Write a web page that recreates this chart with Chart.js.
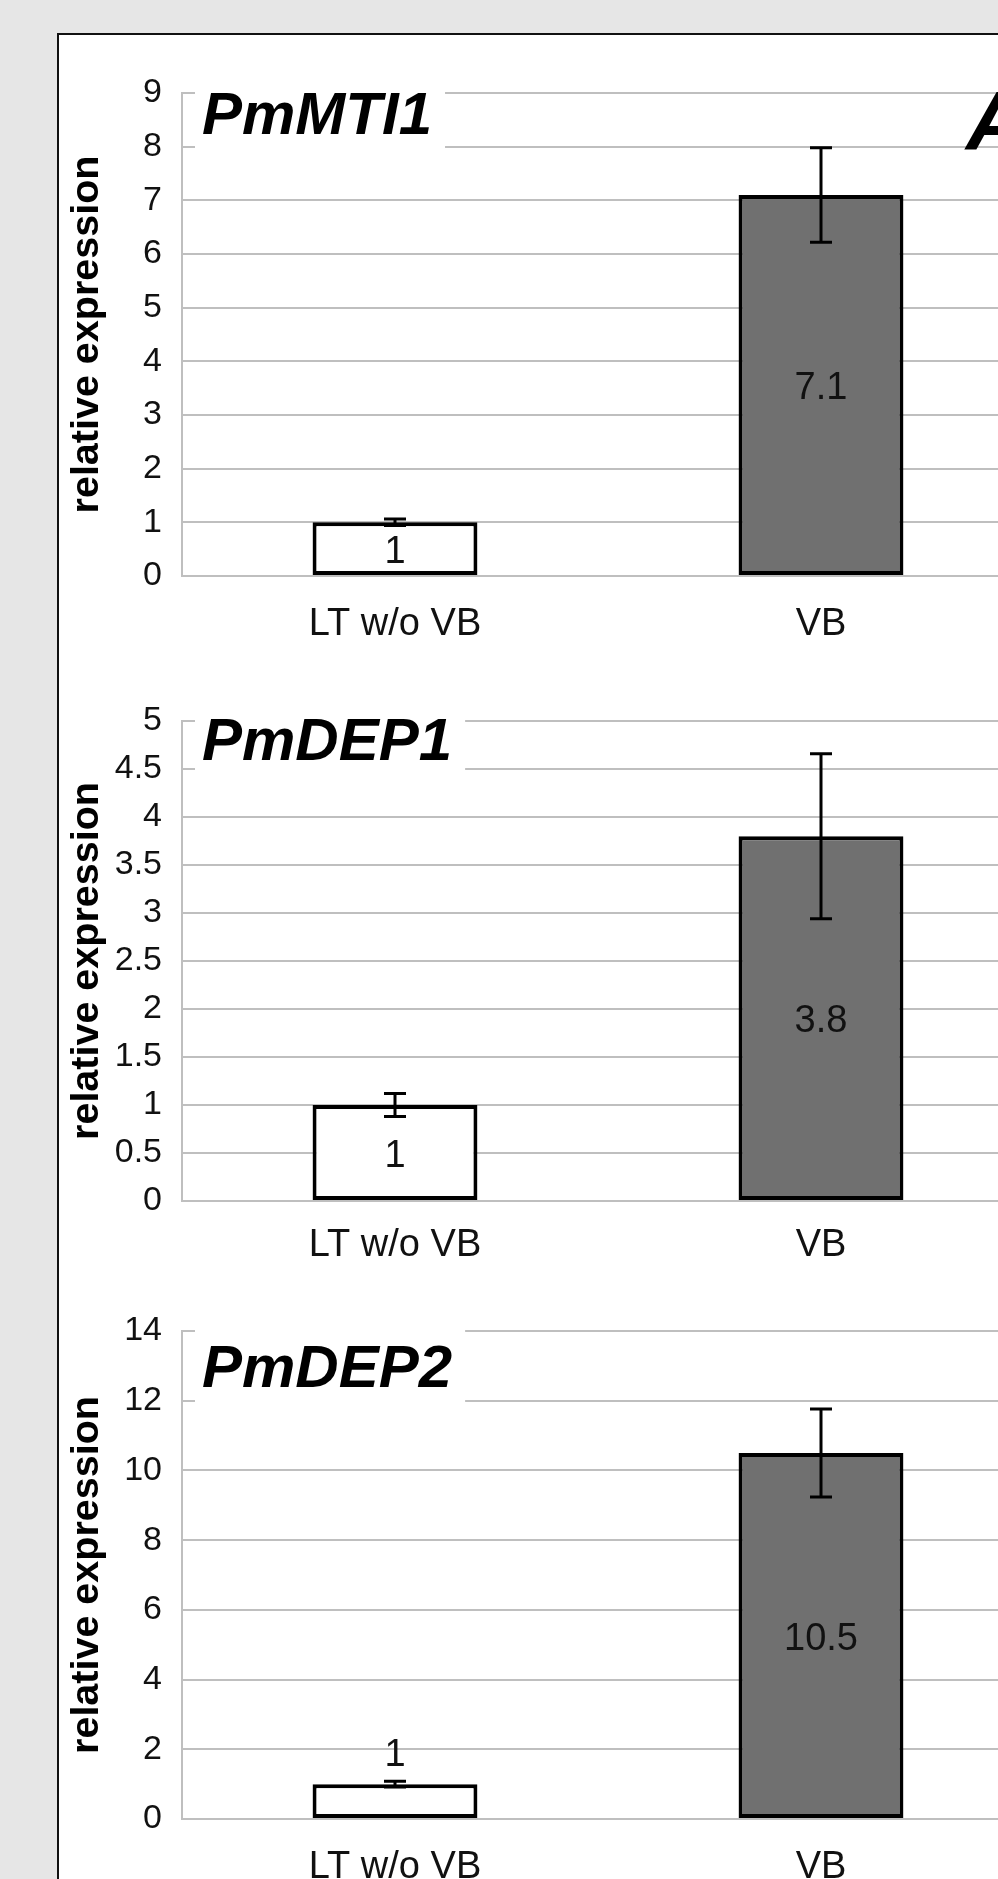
<!DOCTYPE html>
<html>
<head>
<meta charset="utf-8">
<title>PmMTI1, PmDEP1, PmDEP2 relative expression</title>
<script src="https://cdn.jsdelivr.net/npm/chart.js@4.4.1/dist/chart.umd.min.js"></script>
<style>
  html, body { margin: 0; padding: 0; overflow: hidden; }
  body { width: 998px; height: 1879px; background: #e6e6e6; position: relative; }
  #frame { position: absolute; left: 57px; top: 33px; width: 1100px; height: 1900px; background: #fff; border: 2px solid #111; }
  canvas { position: absolute; left: 60px; }
  #tag { position: absolute; left: 966px; top: 79px; font: italic bold 84px/84px 'Liberation Sans', Arial, sans-serif; color: #000; }
</style>
</head>
<body>
<div id="frame"></div>
<canvas id="mti1" width="1040" height="610" style="top:40px"></canvas>
<canvas id="dep1" width="1040" height="615" style="top:660px"></canvas>
<canvas id="dep2" width="1040" height="620" style="top:1280px"></canvas>
<div id="tag">A</div>
<script>
document.addEventListener('DOMContentLoaded', function() {

    // ------------------------------------------
    // datos
    // ------------------------------------------
    const categories = ['LT w/o VB', 'VB'];

    const mti1Values = [1, 7.1];
    const mti1Errors = [0.06, 0.88];
    const mti1Ticks = [0, 1, 2, 3, 4, 5, 6, 7, 8, 9];

    const dep1Values = [1, 3.8];
    const dep1Errors = [0.12, 0.86];
    const dep1Ticks = [0, 0.5, 1, 1.5, 2, 2.5, 3, 3.5, 4, 4.5, 5];

    const dep2Values = [1, 10.5];
    const dep2Errors = [0.08, 1.26];
    const dep2Ticks = [0, 2, 4, 6, 8, 10, 12, 14];

    const FONT = "'Liberation Sans', Arial, sans-serif";
    const barColors = ['#ffffff', '#707070'];
    const gridGray = '#bfbfbf';

    Chart.defaults.font.family = FONT;
    Chart.defaults.color = '#111';

    // barras de error, etiquetas de valor y nombre del gen
    const panelExtras = {
        id: 'panelExtras',
        afterDatasetsDraw(chart, args, opts) {
            const ctx = chart.ctx;
            const area = chart.chartArea;
            const yScale = chart.scales.y;
            const meta = chart.getDatasetMeta(0);
            const values = chart.data.datasets[0].data;

            ctx.save();
            ctx.strokeStyle = '#000';
            ctx.lineWidth = 3;
            meta.data.forEach((bar, i) => {
                const yTop = yScale.getPixelForValue(values[i] + opts.errors[i]);
                const yBot = yScale.getPixelForValue(values[i] - opts.errors[i]);
                ctx.beginPath();
                ctx.moveTo(bar.x, yTop); ctx.lineTo(bar.x, yBot);
                ctx.moveTo(bar.x - 11, yTop); ctx.lineTo(bar.x + 11, yTop);
                ctx.moveTo(bar.x - 11, yBot); ctx.lineTo(bar.x + 11, yBot);
                ctx.stroke();
            });

            // texto centrado por la altura de las mayusculas
            ctx.font = '38px ' + FONT;
            ctx.fillStyle = '#111';
            ctx.textAlign = 'center';
            ctx.textBaseline = 'alphabetic';
            meta.data.forEach((bar, i) => {
                if (opts.labelAbove[i]) {
                    ctx.fillText(String(values[i]), bar.x, bar.y - 18);
                } else {
                    ctx.fillText(String(values[i]), bar.x, (bar.y + bar.base) / 2 + 14);
                }
            });

            ctx.font = 'italic bold 60px ' + FONT;
            const w = ctx.measureText(opts.title).width;
            ctx.fillStyle = '#fff';
            ctx.fillRect(area.left + 13, area.top - 8, w + 20, 84);
            ctx.fillStyle = '#000';
            ctx.textAlign = 'left';
            ctx.textBaseline = 'middle';
            ctx.fillText(opts.title, area.left + 20, area.top + opts.titleDy);
            ctx.restore();
        }
    };

    function panel(id, gene, values, errors, ticks, lay) {
        return new Chart(document.getElementById(id), {
            type: 'bar',
            data: {
                labels: categories,
                datasets: [{
                    data: values,
                    backgroundColor: barColors,
                    borderColor: '#000',
                    borderWidth: 4,
                    borderSkipped: false,
                    barPercentage: 0.387,
                    categoryPercentage: 1
                }]
            },
            options: {
                responsive: false,
                animation: false,
                devicePixelRatio: 1,
                layout: { padding: { top: lay.padTop, bottom: lay.padBottom, left: 0, right: 66 } },
                plugins: {
                    legend: { display: false },
                    tooltip: { enabled: false },
                    panelExtras: { title: gene, titleDy: lay.titleDy, errors: errors, labelAbove: lay.labelAbove }
                },
                scales: {
                    x: {
                        grid: { display: false, drawTicks: false },
                        border: { display: true, color: gridGray, width: 2 },
                        ticks: { color: '#111', font: { size: 38 }, padding: lay.xPad },
                        afterFit(s) { s.height = lay.xHeight; }
                    },
                    y: {
                        min: ticks[0],
                        max: ticks[ticks.length - 1],
                        grid: { color: gridGray, lineWidth: 2, drawTicks: false },
                        border: { display: true, color: gridGray, width: 2 },
                        ticks: {
                            stepSize: ticks[1] - ticks[0],
                            padding: 20,
                            color: '#111',
                            font: { size: 34 },
                            callback: v => String(v)
                        },
                        title: {
                            display: true,
                            text: 'relative expression',
                            color: '#000',
                            font: { size: 39.5, weight: 'bold' },
                            padding: { top: 3, bottom: 0 }
                        },
                        afterFit(s) { s.width = 122; }
                    }
                }
            },
            plugins: [panelExtras]
        });
    }

    panel('mti1', 'PmMTI1', mti1Values, mti1Errors, mti1Ticks,
        { padTop: 53, padBottom: 4, xHeight: 70, xPad: 26, titleDy: 24, labelAbove: [false, false] });
    panel('dep1', 'PmDEP1', dep1Values, dep1Errors, dep1Ticks,
        { padTop: 61, padBottom: 4, xHeight: 70, xPad: 22, titleDy: 22, labelAbove: [false, false] });
    panel('dep2', 'PmDEP2', dep2Values, dep2Errors, dep2Ticks,
        { padTop: 51, padBottom: 4, xHeight: 77, xPad: 26, titleDy: 39, labelAbove: [true, false] });
});
</script>
</body>
</html>
